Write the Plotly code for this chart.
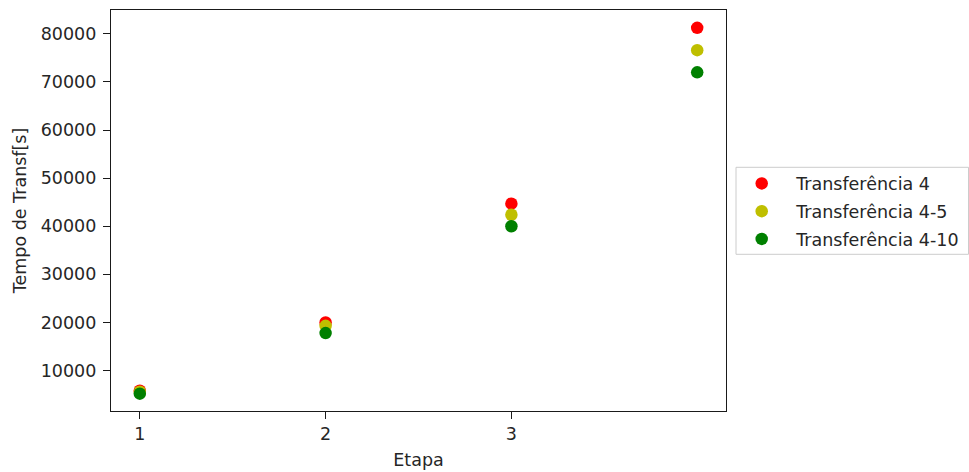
import plotly.graph_objects as go

# Data
etapas = [1, 2, 3, 4]
tick_vals_x = [1, 2, 3]
tick_text_x = ["1", "2", "3"]
tick_vals_y = [10000, 20000, 30000, 40000, 50000, 60000, 70000, 80000]
tick_text_y = ["10000", "20000", "30000", "40000", "50000", "60000", "70000", "80000"]
serie_nomes = ["Transferência 4", "Transferência 4-5", "Transferência 4-10"]
t_4 = [5800, 20000, 44700, 81250]
t_4_5 = [5600, 19300, 42400, 76600]
t_4_10 = [5200, 17800, 40000, 72000]
cores = ["#ff0000", "#bfbf00", "#008000"]

W, H = 969, 472
L, R, T, B = 111, 726, 10, 411
FONT = "DejaVu Sans"
FS = 17.5
TXT = "#262626"

fig = go.Figure()
for i, (nome, ys, cor) in enumerate(zip(serie_nomes, [t_4, t_4_5, t_4_10], cores)):
    fig.add_trace(go.Scatter(
        x=etapas, y=ys, mode="markers", name=nome, legendgroup=f"g{i}",
        marker=dict(color=cor, size=12.5, line=dict(width=0)),
    ))

def px2paper_x(px):
    return (px - L) / (R - L)

def px2paper_y(py):
    return (B - py) / (B - T)

# legend frame
fig.add_shape(type="rect", xref="paper", yref="paper",
              x0=px2paper_x(736), x1=px2paper_x(968.5),
              y0=px2paper_y(254.3), y1=px2paper_y(167.3),
              line=dict(color="#cccccc", width=1), fillcolor="rgba(0,0,0,0)")

axis_common = dict(
    showline=True, linecolor="#1a1a1a", linewidth=1.3, mirror=True,
    ticks="outside", ticklen=7, tickwidth=1.3, tickcolor="#1a1a1a",
    showgrid=False, zeroline=False,
    tickfont=dict(family=FONT, size=FS, color=TXT),
)

fig.update_layout(
    width=W, height=H,
    margin=dict(l=L, r=W - R, t=T, b=H - B, autoexpand=False),
    paper_bgcolor="white", plot_bgcolor="white",
    font=dict(family=FONT, size=FS, color=TXT),
    xaxis=dict(range=[0.845, 4.155], tickvals=tick_vals_x, ticktext=tick_text_x,
               title=dict(text="Etapa", font=dict(family=FONT, size=FS, color=TXT), standoff=10),
               automargin=False, **axis_common),
    yaxis=dict(range=[1600, 84950], tickvals=tick_vals_y, ticktext=tick_text_y,
               ticklabelstandoff=3,
               title=dict(text="Tempo de Transf[s]", font=dict(family=FONT, size=FS, color=TXT), standoff=9),
               automargin=False, **axis_common),
    legend=dict(x=px2paper_x(727.2), y=px2paper_y(165.5), xanchor="left", yanchor="top",
                bgcolor="rgba(0,0,0,0)", borderwidth=0, itemwidth=59,
                tracegroupgap=2, font=dict(family=FONT, size=FS, color=TXT)),
    showlegend=True,
)

fig.write_html("out.html")
